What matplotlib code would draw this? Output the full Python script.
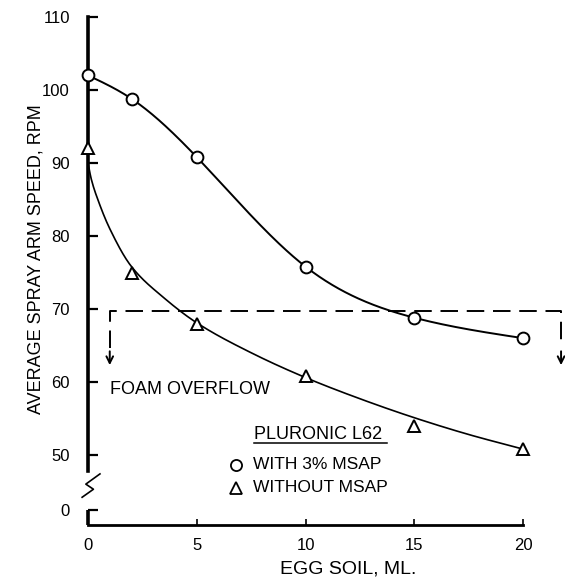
"""
Vitesse moyenne du bras d'aspersion en fonction de la salissure (oeuf),
Pluronic L62 avec / sans MSAP.
"""
import numpy as np
import matplotlib
matplotlib.use("Agg")
import matplotlib.pyplot as plt

plt.rcParams["font.family"] = ["Liberation Sans", "DejaVu Sans"]

# Données
egg_soil = [0, 2, 5, 10, 15, 20]
with_msap = [102.0, 98.8, 90.8, 75.8, 68.8, 66.0]
without_msap = [92.0, 74.9, 68.0, 60.8, 54.0, 50.8]

# courbe tracée à la main pour la série sans MSAP
trend_x = [0, 0.15, 0.5, 1.0, 2.0, 3.5, 5, 7.5, 10, 12.5, 15, 17.5, 20]
trend_y = [90.0, 87.8, 84.6, 81.0, 75.8, 71.5, 68.1, 64.0, 60.6, 57.7, 55.1, 52.8, 50.8]

# limite de débordement de mousse
foam_level = 69.7
foam_x = [1.0, 21.75]
foam_arrow_to = 62.3

x_ticks = [0, 5, 10, 15, 20]
y_ticks = [50, 60, 70, 80, 90, 100, 110]
zero_pos = 42.4  # position affichée du "0" sous la coupure d'axe


def pchip(x, y, n=400):
    """Interpolation monotone (Fritsch-Carlson)."""
    x = np.asarray(x, float)
    y = np.asarray(y, float)
    h = np.diff(x)
    d = np.diff(y) / h
    m = np.zeros_like(y)
    m[0], m[-1] = d[0], d[-1]
    for k in range(1, len(x) - 1):
        if d[k - 1] * d[k] > 0:
            w1 = 2 * h[k] + h[k - 1]
            w2 = h[k] + 2 * h[k - 1]
            m[k] = (w1 + w2) / (w1 / d[k - 1] + w2 / d[k])
    xs = np.linspace(x[0], x[-1], n)
    k = np.clip(np.searchsorted(x, xs) - 1, 0, len(x) - 2)
    t = (xs - x[k]) / h[k]
    h00 = 2 * t ** 3 - 3 * t ** 2 + 1
    h10 = t ** 3 - 2 * t ** 2 + t
    h01 = -2 * t ** 3 + 3 * t ** 2
    h11 = t ** 3 - t ** 2
    ys = h00 * y[k] + h10 * h[k] * m[k] + h01 * y[k + 1] + h11 * h[k] * m[k + 1]
    return xs, ys


def spline_naturelle(x, y, n=400):
    """Spline cubique naturelle passant par tous les points."""
    x = np.asarray(x, float)
    y = np.asarray(y, float)
    nb = len(x)
    h = np.diff(x)
    A = np.zeros((nb, nb))
    r = np.zeros(nb)
    A[0, 0] = A[-1, -1] = 1
    for i in range(1, nb - 1):
        A[i, i - 1] = h[i - 1]
        A[i, i] = 2 * (h[i - 1] + h[i])
        A[i, i + 1] = h[i]
        r[i] = 6 * ((y[i + 1] - y[i]) / h[i] - (y[i] - y[i - 1]) / h[i - 1])
    M = np.linalg.solve(A, r)
    xs = np.linspace(x[0], x[-1], n)
    k = np.clip(np.searchsorted(x, xs) - 1, 0, nb - 2)
    a = x[k + 1] - xs
    b = xs - x[k]
    hk = h[k]
    ys = (M[k] * a ** 3 + M[k + 1] * b ** 3) / (6 * hk) \
        + (y[k] / hk - M[k] * hk / 6) * a + (y[k + 1] / hk - M[k + 1] * hk / 6) * b
    return xs, ys


fig = plt.figure(figsize=(5.65, 5.80), dpi=100)
ax = fig.add_axes([88 / 565, 55 / 580, 435 / 565, 508 / 580])
ax.set_xlim(0, 20)
ax.set_ylim(40.4, 110)

# courbes
cx, cy = spline_naturelle(egg_soil, with_msap)
ax.plot(cx, cy, color="black", lw=1.4, clip_on=False)
tx, ty = pchip(trend_x, trend_y)
ax.plot(tx, ty, color="black", lw=1.2, clip_on=False)

ax.plot(egg_soil, with_msap, "o", ms=8.5, mfc="white", mec="black", mew=1.4,
        clip_on=False, zorder=5)
ax.plot(egg_soil, without_msap, "^", ms=8.5, mfc="white", mec="black", mew=1.4,
        clip_on=False, zorder=5)

# ligne pointillée du débordement
ax.plot([foam_x[0], foam_x[0], foam_x[1], foam_x[1]],
        [foam_level - 5.0, foam_level, foam_level, foam_level - 5.0],
        color="black", lw=1.4, ls=(0, (9, 4.5)), clip_on=False)
for xa in foam_x:
    ax.annotate("", xy=(xa, foam_arrow_to), xytext=(xa, foam_level - 5.5),
                arrowprops=dict(arrowstyle="->", lw=1.4, color="black",
                                shrinkA=0, shrinkB=0, mutation_scale=12),
                annotation_clip=False)
ax.text(1.0, 58.9, "FOAM OVERFLOW", fontsize=13, va="center", ha="left")

# légende manuelle
ax.text(7.65, 52.74, "PLURONIC L62", fontsize=13, va="center", ha="left")
ax.plot([7.65, 13.75], [51.6, 51.6], color="black", lw=1.1)
ax.plot([6.8], [48.63], "o", ms=8, mfc="white", mec="black", mew=1.3)
ax.text(7.6, 48.63, "WITH 3% MSAP", fontsize=12.5, va="center", ha="left")
ax.plot([6.8], [45.5], "^", ms=8, mfc="white", mec="black", mew=1.3)
ax.text(7.6, 45.5, "WITHOUT MSAP", fontsize=12.5, va="center", ha="left")

# axes
for side in ("top", "right"):
    ax.spines[side].set_visible(False)
ax.spines["left"].set_bounds(47.8, 110)
ax.spines["left"].set_linewidth(2.6)
ax.spines["bottom"].set_linewidth(2.0)
ax.plot([0, 0], [40.4, zero_pos], color="black", lw=2.6, clip_on=False,
        solid_capstyle="butt")
# coupure de l'axe
ax.plot([-0.27, 0.25, -0.1, 0.55], [44.2, 45.3, 46.0, 47.4],
        color="black", lw=1.2, clip_on=False)

ax.set_xticks(x_ticks)
ax.set_yticks(y_ticks + [zero_pos])
ax.set_yticklabels([str(v) for v in y_ticks] + ["0"])
ax.tick_params(axis="y", direction="in", length=7, width=1.6, pad=13,
               labelsize=12)
ax.tick_params(axis="x", direction="in", length=4, width=1.2, pad=9,
               labelsize=12)

ax.set_xlabel("EGG SOIL, ML.", fontsize=14)
ax.xaxis.set_label_coords((348 - 88) / 435, -36 / 508)
ax.set_ylabel("AVERAGE SPRAY ARM SPEED, RPM", fontsize=13)
ax.yaxis.set_label_coords(-43 / 435, (525 - 259) / 508)

fig.savefig("out.png", dpi=100)
